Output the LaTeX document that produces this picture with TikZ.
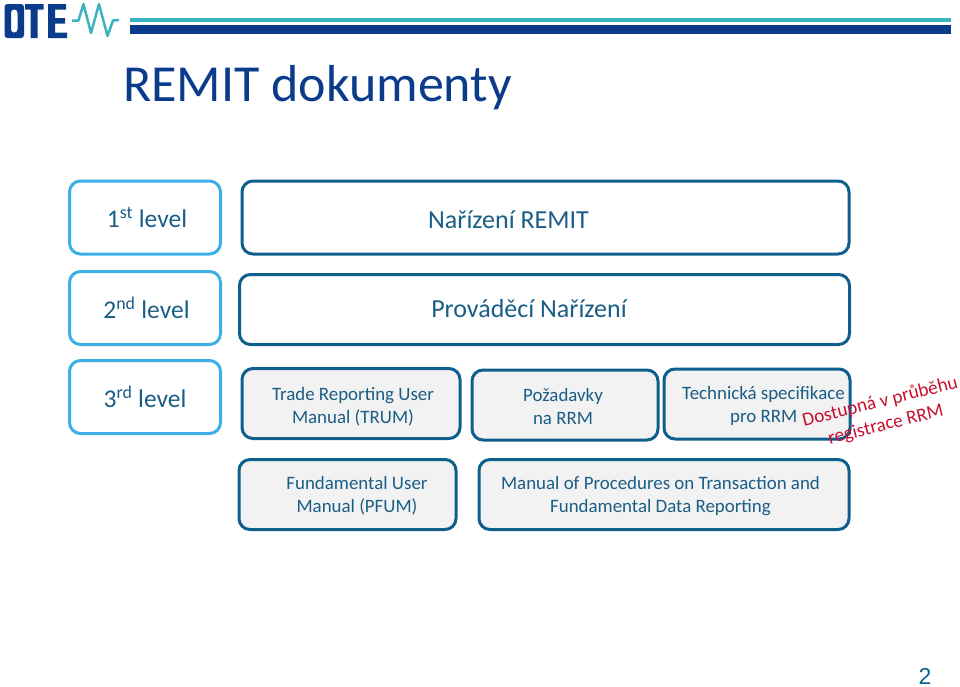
\documentclass[tikz,border=0pt]{standalone}
\usepackage{fontspec}
\setmainfont{Carlito}
\newfontfamily\arialf{Liberation Sans}
\definecolor{navy}{HTML}{0B3C8C}
\definecolor{tealc}{HTML}{3BB3C0}
\definecolor{sky}{HTML}{3DAEE6}
\definecolor{deep}{HTML}{0F5F8C}
\definecolor{txt}{HTML}{1A5E86}
\definecolor{redt}{HTML}{C8102E}
\tikzset{
 levelbox/.style={draw=sky,line width=3pt,rounded corners=11pt,fill=white,text=txt,inner sep=0pt,align=center,font=\fontsize{25.5}{28}\selectfont},
 widebox/.style={draw=deep,line width=3pt,rounded corners=11pt,fill=white},
 docbox/.style={draw=deep,line width=3pt,rounded corners=11pt,fill=black!5},
 bigtext/.style={text=txt,inner sep=0pt,align=center,font=\fontsize{26}{30}\selectfont},
 doctext/.style={text=txt,inner sep=0pt,align=center,font=\fontsize{18.9}{23}\selectfont},
 note/.style={text=redt,rotate=14,inner sep=0pt,align=center,font=\fontsize{19.2}{23.5}\selectfont},
}
\begin{document}
\begin{tikzpicture}[x=1pt,y=-1pt]
\useasboundingbox (0,0) rectangle (960,686);
% logo
\fill[navy,even odd rule,rounded corners=3pt] (4.5,4) rectangle (24,38) (11,9.5) rectangle (17.5,32.5);
\fill[navy] (25,4) -- (43.5,4) -- (43.5,9.5) -- (37.5,9.5) -- (37.5,38) -- (30.5,38) -- (30.5,9.5) -- (25,9.5) -- cycle;
\fill[navy] (48,4) -- (66,4) -- (66,9.5) -- (55,9.5) -- (55,18) -- (65,18) -- (65,23.5) -- (55,23.5) -- (55,32.5) -- (67,32.5) -- (67,38) -- (48,38) -- cycle;
\draw[tealc,line width=2.5pt,line join=round] (72,20.5) -- (78.5,20.5) -- (83.5,4) -- (91,33) -- (99,4) -- (107.5,36) -- (113,20.5) -- (119,20);
% header rules
\fill[tealc] (130,17.5) rectangle (951,21.5);
\fill[navy] (130,25) rectangle (951,34);
% title
\node[anchor=base west,text=navy,inner sep=0pt,font=\fontsize{52}{60}\selectfont] (title) at (123,101) {REMIT dokumenty};
% boxes
\node[levelbox,minimum width=151pt,minimum height=73pt] (l1) at (145,217.5) {\hspace*{4pt}1\textsuperscript{st} level};
\node[levelbox,minimum width=151pt,minimum height=73pt] (l2) at (145,308) {\hspace*{3pt}2\textsuperscript{nd} level};
\node[levelbox,minimum width=151pt,minimum height=73pt] (l3) at (145,397) {3\textsuperscript{rd} level};
\node[widebox,minimum width=607pt,minimum height=73pt] (b1) at (545.5,217.5) {};
\node[widebox,minimum width=610pt,minimum height=70pt] (b2) at (544.5,309.5) {};
\node[docbox,minimum width=218pt,minimum height=70pt] (trum) at (351,403.5) {};
\node[docbox,minimum width=186pt,minimum height=70pt] (poz) at (565,405) {};
\node[docbox,minimum width=186pt,minimum height=70pt] (tech) at (757,404) {};
\node[docbox,minimum width=217pt,minimum height=70pt] (pfum) at (347.5,494.5) {};
\node[docbox,minimum width=370pt,minimum height=70pt] (man) at (664,494.5) {};
\node[bigtext] (b1t) at (508.5,220) {Nařízení REMIT};
\node[bigtext] (b2t) at (529,309) {Prováděcí Nařízení};
\node[doctext] (trumt) at (353,406.5) {Trade Reporting User\\Manual (TRUM)};
\node[doctext] (pozt) at (563,406.5) {Požadavky\\na RRM};
\node[doctext,align=left,anchor=west] (techt) at (682,406) {Technická specifikace\\\hspace*{48pt}pro RRM};
\node[doctext] (pfumt) at (357,496) {Fundamental User\\Manual (PFUM)};
\node[doctext] (mant) at (660.5,496.5) {Manual of Procedures on Transaction and\\Fundamental Data Reporting};
\node[note] (dost) at (883,413.5) {Dostupná v průběhu\\registrace RRM};
\node[anchor=base,text=deep,inner sep=0pt,font=\arialf\fontsize{23}{26}\selectfont] (page) at (925,684) {2};
\end{tikzpicture}
\end{document}
